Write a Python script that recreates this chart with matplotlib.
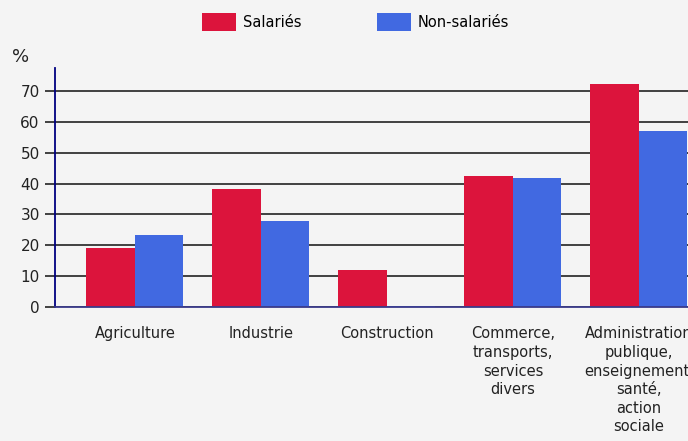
import matplotlib
matplotlib.use('Agg')
import matplotlib.pyplot as plt
import numpy as np

categories = ["Agriculture", "Industrie", "Construction",
              "Commerce,\ntransports,\nservices\ndivers",
              "Administration\npublique,\nenseignement,\nsanté,\naction\nsociale"]
salaries = [19, 38.3, 12, 42.5, 72.3]
non_salaries = [23.2, 28, 0.4, 41.8, 57]
yticks = [0, 10, 20, 30, 40, 50, 60, 70]

bg = "#f4f4f4"
red = "#dc143c"
blue = "#4169e1"

plt.rcParams['font.family'] = ['DejaVu Sans']
fig = plt.figure(figsize=(6.88, 4.41), dpi=100, facecolor=bg)
ax = fig.add_axes([55 / 688, 134 / 441, 633 / 688, 239 / 441], facecolor=bg)

x = np.arange(len(categories))
w = 0.385
ax.bar(x - w / 2, salaries, w, color=red, label="Salariés", zorder=3)
ax.bar(x + w / 2, non_salaries, w, color=blue, label="Non-salariés", zorder=3)

ax.set_xlim(-0.635, 4.39)
ax.set_ylim(0, 77.5)
ax.set_yticks(yticks)
ax.yaxis.grid(True, color="#222222", linewidth=1.2, zorder=1)
ax.tick_params(axis='y', length=7, width=1.2, color="#222222", labelsize=11,
               labelcolor="#222222", pad=4)
ax.set_xticks(x)
ax.set_xticklabels(categories, fontsize=10.5, color="#222222", linespacing=1.3)
ax.tick_params(axis='x', length=0, pad=14)

for s in ["top", "right"]:
    ax.spines[s].set_visible(False)
ax.spines["left"].set_color("#000080")
ax.spines["left"].set_linewidth(1.3)
ax.spines["bottom"].set_color("#3a3a8a")
ax.spines["bottom"].set_linewidth(1.3)
ax.spines["bottom"].set_zorder(4)

fig.text(12 / 688, 1 - 62 / 441, "%", fontsize=13, color="#222222")

fig.legend(loc="upper center", bbox_to_anchor=(0.517, 1.0), ncol=2, frameon=False,
           fontsize=10.5, handlelength=2.3, handleheight=1.5, columnspacing=5.2,
           handletextpad=0.5)

fig.savefig("out.png", dpi=100, facecolor=bg)
